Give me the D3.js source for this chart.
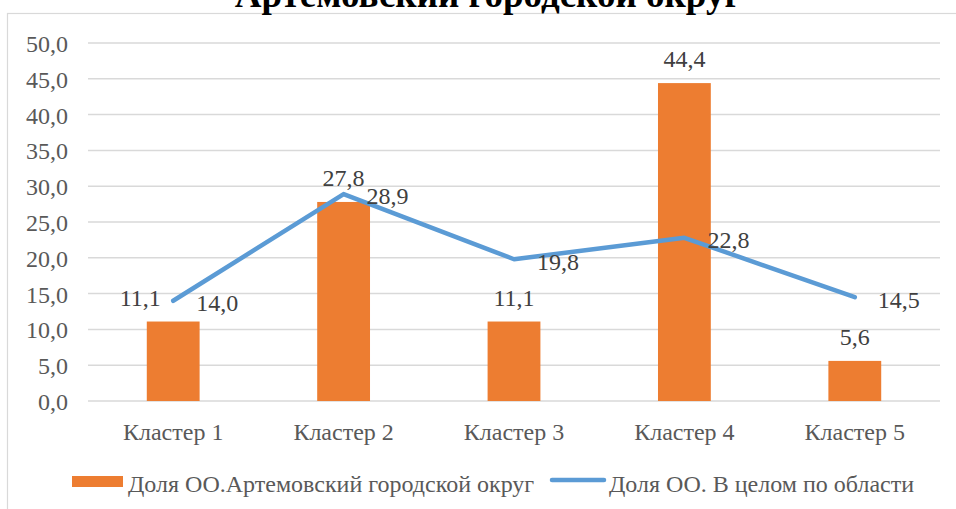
<!DOCTYPE html>
<html><head><meta charset="utf-8">
<script src="https://cdn.jsdelivr.net/npm/d3@7"></script>
<style>body{margin:0;background:#fff}svg{display:block}text{font-family:"Liberation Serif","Times New Roman",serif}</style>
</head><body>
<svg id="c" width="956" height="509"></svg>
<script>
const title = "Артемовский городской округ";
const categories = ["Кластер 1","Кластер 2","Кластер 3","Кластер 4","Кластер 5"];
const barValues = [11.1, 27.8, 11.1, 44.4, 5.6];
const lineValues = [14.0, 28.9, 19.8, 22.8, 14.5];
const barName = "Доля ОО.Артемовский городской округ";
const lineName = "Доля ОО. В целом по области";
const yTicks = [0,5,10,15,20,25,30,35,40,45,50];

const svg = d3.select("#c");
const FS = 24;
const fmt = v => d3.format(".1f")(v).replace(".", ",");
const x = d3.scaleBand().domain(categories).range([88, 940]).paddingInner(0.69).paddingOuter(0.345);
const y = d3.scaleLinear().domain([0, 50]).range([401, 43]);

// frame
svg.append("rect").attr("x", 7.5).attr("y", 13.5).attr("width", 960).attr("height", 510)
  .attr("fill", "#fff").attr("stroke", "#d9d9d9").attr("stroke-width", 1.2);

// title
svg.append("text").attr("x", 488).attr("y", 7).attr("text-anchor", "middle")
  .attr("font-weight", "bold").attr("font-size", 37).attr("fill", "#000").text(title);

// gridlines
svg.append("g").selectAll("line").data(yTicks).join("line")
  .attr("x1", 88).attr("x2", 940).attr("y1", d => y(d)).attr("y2", d => y(d))
  .attr("stroke", "#d9d9d9").attr("stroke-width", 1.5);

// y axis
const ya = svg.append("g").attr("transform", "translate(68,0)")
  .call(d3.axisLeft(y).tickValues(yTicks).tickFormat(fmt).tickSize(0).tickPadding(0));
ya.select(".domain").remove();
ya.selectAll("text").attr("font-size", FS).attr("fill", "#595959").attr("font-family", "Liberation Serif").attr("dy", "0.35em");

// x axis
const xa = svg.append("g").attr("transform", "translate(0,401)")
  .call(d3.axisBottom(x).tickSize(0).tickPadding(0));
xa.select(".domain").remove();
xa.selectAll("text").attr("font-size", FS).attr("fill", "#595959").attr("font-family", "Liberation Serif")
  .attr("y", 31).attr("dy", "0.35em");

// bars
svg.append("g").selectAll("rect").data(barValues).join("rect")
  .attr("x", (d, i) => x(categories[i])).attr("width", x.bandwidth())
  .attr("y", d => y(d)).attr("height", d => y(0) - y(d)).attr("fill", "#ED7D31");

// line
const line = d3.line().x((d, i) => x(categories[i]) + x.bandwidth() / 2).y(d => y(d));
svg.append("path").datum(lineValues).attr("d", line).attr("fill", "none")
  .attr("stroke", "#5B9BD5").attr("stroke-width", 4.5).attr("stroke-linejoin", "round").attr("stroke-linecap", "round");

// bar labels
const barDx = [-33, 0, 0, 0, 0];
svg.append("g").selectAll("text").data(barValues).join("text")
  .attr("x", (d, i) => x(categories[i]) + x.bandwidth() / 2 + barDx[i]).attr("y", d => y(d) - 16)
  .attr("text-anchor", "middle").attr("font-size", FS).attr("fill", "#404040").text(fmt);

// line labels
svg.append("g").selectAll("text").data(lineValues).join("text")
  .attr("x", (d, i) => x(categories[i]) + x.bandwidth() / 2 + 23).attr("y", d => y(d) + 2)
  .attr("dy", "0.35em").attr("font-size", FS).attr("fill", "#404040").text(fmt);

// legend
const lg = svg.append("g");
lg.append("rect").attr("x", 72).attr("y", 476).attr("width", 51).attr("height", 11).attr("fill", "#ED7D31");
lg.append("text").attr("x", 128).attr("y", 484).attr("dy", "0.35em").attr("font-size", FS).attr("fill", "#595959").text(barName);
lg.append("line").attr("x1", 552).attr("x2", 604).attr("y1", 480).attr("y2", 480)
  .attr("stroke", "#5B9BD5").attr("stroke-width", 4.5).attr("stroke-linecap", "round");
lg.append("text").attr("x", 609).attr("y", 484).attr("dy", "0.35em").attr("font-size", FS).attr("fill", "#595959").text(lineName);
</script>
</body></html>
